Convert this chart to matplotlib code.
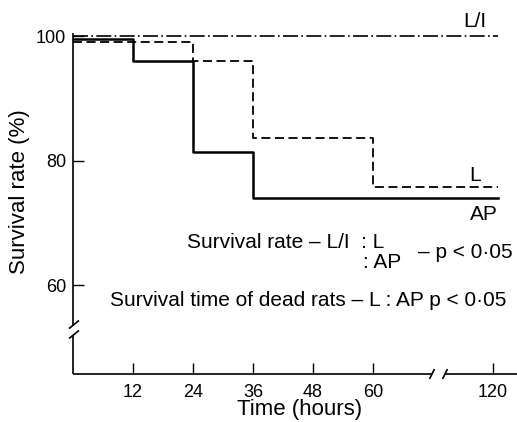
import matplotlib
matplotlib.use('Agg')
import matplotlib.pyplot as plt

plt.rcParams['font.family'] = ['Liberation Sans', 'DejaVu Sans']

# survival data (time in hours, survival %)
t_li = [0, 121]
s_li = [100, 100]
t_l = [0, 24, 36, 60, 121]
s_l = [99.0, 96.0, 83.6, 75.8, 75.8]
t_ap = [0, 12, 24, 36, 121]
s_ap = [99.6, 96.0, 81.3, 74.0, 74.0]

xtick_hours = [12, 24, 36, 48, 60, 120]
ytick_vals = [60, 80, 100]


# broken time axis: everything past 72 h is squeezed
def xpos(t):
    return [v if v <= 72 else v - 36 for v in t]


fig = plt.figure(figsize=(5.17, 4.22), dpi=100)
ax = fig.add_axes([73/517, 48/422, 444/517, 341/422])
ax.set_xlim(0, 88.8)
ax.set_ylim(45.7, 100.5)

ax.step(xpos(t_li), s_li, where='post', color='black', lw=1.2, dashes=(9, 2, 1, 2))
ax.step(xpos(t_l), s_l, where='post', color='black', lw=1.3, dashes=(5, 2.5))
ax.step(xpos(t_ap), s_ap, where='post', color='black', lw=1.8)

for s in ax.spines.values():
    s.set_visible(False)

# axis lines with breaks
k = dict(color='black', lw=1.2, clip_on=False, solid_capstyle='butt')
ax.plot([0, 0], [45.7, 51.9], **k)
ax.plot([0, 0], [53.5, 100.5], **k)
ax.plot([0, 71.8], [45.7, 45.7], **k)
ax.plot([74.4, 88.8], [45.7, 45.7], **k)
# break marks
ax.plot([-0.8, 1.2], [53.0, 54.3], **k)
ax.plot([-0.8, 1.2], [51.4, 52.7], **k)
ax.plot([71.3, 72.3], [44.9, 46.5], **k)
ax.plot([73.9, 74.9], [44.9, 46.5], **k)

ax.set_xticks(xpos(xtick_hours))
ax.set_xticklabels([str(h) for h in xtick_hours])
ax.set_yticks(ytick_vals)
ax.tick_params(direction='in', length=8, width=1, labelsize=13, color='black')
ax.tick_params(axis='x', pad=7)
ax.tick_params(axis='y', pad=5)

fig.text(300/517, 1 - 410/422, 'Time (hours)', fontsize=16, ha='center', va='center')
fig.text(20/517, 1 - 192/422, 'Survival rate (%)', fontsize=16, rotation=90,
         ha='center', va='center')

ax.text(80.4, 102.3, 'L/I', fontsize=15, ha='center', va='center')
ax.text(80.4, 77.6, 'L', fontsize=15, ha='center', va='center')
ax.text(82.2, 71.4, 'AP', fontsize=15, ha='center', va='center')

fs = 15
ax.text(22.8, 66.9, 'Survival rate – L/I  : L', fontsize=fs, va='center')
ax.text(58.0, 63.6, ': AP', fontsize=fs, va='center')
ax.text(69.0, 65.3, '– p < 0·05', fontsize=fs, va='center')
ax.text(7.4, 57.5, 'Survival time of dead rats – L : AP p < 0·05', fontsize=fs, va='center')

fig.savefig('out.png', dpi=100)
